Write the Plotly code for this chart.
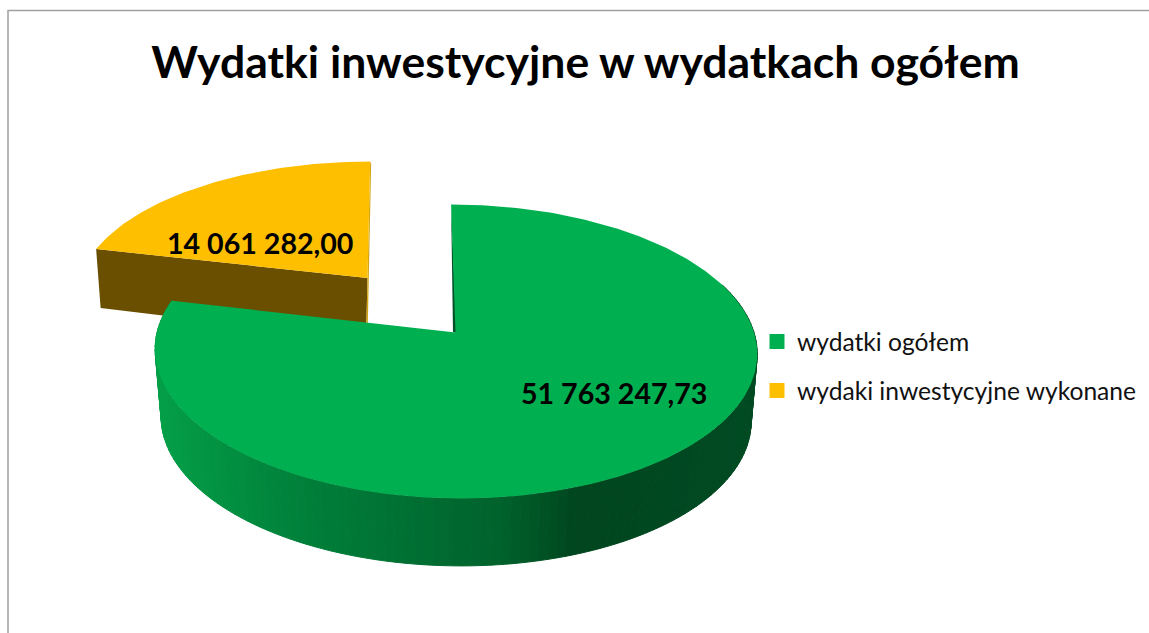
import math
import plotly.graph_objects as go

# ---- data ----
categories = ["wydatki ogółem", "wydaki inwestycyjne wykonane"]
values = [51763247.73, 14061282.00]
value_labels = ["51 763 247,73", "14 061 282,00"]
title_text = "Wydatki inwestycyjne w wydatkach ogółem"

GREEN = "#00AF50"
YELLOW = "#FDBF00"
YELLOW_WALL = "#6A4F00"
YELLOW_EDGE = "#D2A312"
GREEN_EDGE = "#01502A"
GRAD = [(150, (4, 160, 72)), (300, (0, 128, 58)), (500, (0, 98, 44)),
        (545, (0, 82, 36)), (575, (0, 70, 31)), (760, (0, 74, 34))]

k = 0.129
A, B = 298.5, 144.5
share = values[1] / sum(values)
sweep = 2 * math.pi * share


def proj(theta, cx, cy, sx=1.0, sy=1.0, skew=0.0):
    u, v = math.sin(theta), math.cos(theta)
    w = 1 + k * v
    return (cx + (sx * A * u + skew * v) / w, cy - sy * B * v / w)


def poly(xs, ys, color, line=0.0):
    return go.Scatter(x=xs, y=ys, mode="lines", fill="toself", fillcolor=color,
                      line=dict(color=color, width=line), hoverinfo="skip", showlegend=False)


def grad(x):
    if x <= GRAD[0][0]:
        return "rgb(%d,%d,%d)" % GRAD[0][1]
    for (x0, c0), (x1, c1) in zip(GRAD, GRAD[1:]):
        if x <= x1:
            t = (x - x0) / (x1 - x0)
            return "rgb(%d,%d,%d)" % tuple(round(a + (b - a) * t) for a, b in zip(c0, c1))
    return "rgb(%d,%d,%d)" % GRAD[-1][1]


fig = go.Figure()

# yellow slice (exploded, drawn first, at the back)
YP = dict(cx=367.5, cy=278, sx=0.963, sy=0.91, skew=3.0)
DY = 62
a0, a1 = -sweep, 0.0
n = 60
rim = [proj(a0 + (a1 - a0) * i / n, **YP) for i in range(n + 1)]
lp, tp = rim[0], rim[-1]
fig.add_trace(poly([lp[0], 367.5, 366, lp[0] + 4.5, lp[0]],
                   [lp[1], 278, 278 + DY, lp[1] + 59, lp[1]], YELLOW_WALL))
fig.add_trace(poly([tp[0], tp[0] + 1, 367.5, 366, 367.5, tp[0]],
                   [tp[1], tp[1] + 2, 278 + DY, 278 + DY, 278, tp[1]], YELLOW_EDGE))
fig.add_trace(poly([p[0] for p in rim] + [367.5, rim[0][0]],
                   [p[1] for p in rim] + [278, rim[0][1]], YELLOW))

# green slice
GP = dict(cx=455.5, cy=332.5, sx=1.0, sy=1.0, skew=-5.0)
D, S = 67.5, 0.98
deg = math.pi / 180
m = 130
t0, t1 = 70 * deg, 2 * math.pi - sweep
for i in range(m):
    ta = t0 + (t1 - t0) * i / m
    tb = t0 + (t1 - t0) * (i + 1) / m
    pa, pb = proj(ta, **GP), proj(tb, **GP)
    qa = (GP["cx"] + (pa[0] - GP["cx"]) * S, pa[1] + D)
    qb = (GP["cx"] + (pb[0] - GP["cx"]) * S, pb[1] + D)
    fig.add_trace(poly([pa[0], pb[0], qb[0], qa[0], pa[0]],
                       [pa[1], pb[1], qb[1], qa[1], pa[1]],
                       grad((pa[0] + pb[0]) / 2), line=1))
tip = proj(0, **GP)
fig.add_trace(poly([tip[0], 453, GP["cx"] + 1, tip[0]],
                   [tip[1], 332, 333, tip[1]], GREEN_EDGE))
n = 300
top = [proj((2 * math.pi - sweep) * i / n, **GP) for i in range(n + 1)]
fig.add_trace(poly([p[0] for p in top] + [GP["cx"], top[0][0]],
                   [p[1] for p in top] + [GP["cy"], top[0][1]], GREEN))

# legend entries
for cat, col in zip(categories, [GREEN, YELLOW]):
    fig.add_trace(go.Scatter(x=[None], y=[None], mode="markers", name=cat, legendgroup=cat,
                             marker=dict(symbol="square", size=15, color=col)))

# data labels
for lx, ly, t in zip([614, 259.5], [393, 243], value_labels):
    fig.add_annotation(x=lx, y=ly, text=t, showarrow=False,
                       font=dict(family="Lato", size=28.6, color="black", weight="bold"))

fig.update_layout(
    width=1149, height=633, margin=dict(l=0, r=0, t=0, b=0),
    paper_bgcolor="white", plot_bgcolor="white",
    title=dict(text=title_text, x=585.5 / 1149, xanchor="center", y=1 - 62 / 633, yanchor="middle",
               font=dict(family="Lato", size=44.5, color="black", weight="bold")),
    xaxis=dict(range=[0, 1149], visible=False, fixedrange=True),
    yaxis=dict(range=[633, 0], visible=False, fixedrange=True),
    legend=dict(x=767 / 1149, xanchor="left", y=1 - 319 / 633, yanchor="top",
                font=dict(family="Lato", size=24.6, color="#111111"), indentation=-10,
                tracegroupgap=14, bgcolor="rgba(0,0,0,0)", itemclick=False, itemdoubleclick=False),
    shapes=[dict(type="rect", xref="x", yref="y", x0=8, y0=10.5, x1=1200, y1=700,
                 line=dict(color="#A0A0A0", width=1.5), layer="below")],
)
fig.write_html("out.html", post_script="document.body.style.margin='0';", config={"displayModeBar": False})
